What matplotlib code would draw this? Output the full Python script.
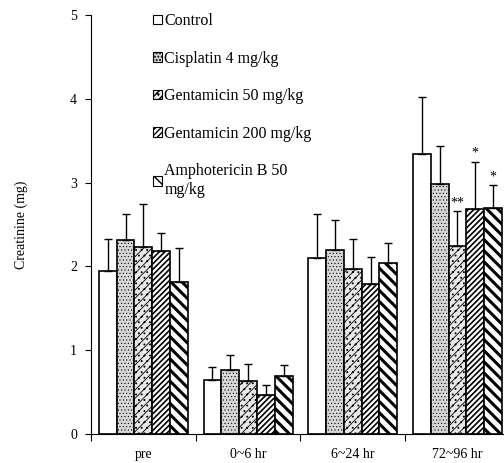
import matplotlib
matplotlib.use("Agg")
import matplotlib.pyplot as plt
from matplotlib.patches import Patch
import numpy as np

# Data
groups = ["pre", "0~6 hr", "6~24 hr", "72~96 hr"]
series = ["Control", "Cisplatin 4 mg/kg", "Gentamicin 50 mg/kg",
          "Gentamicin 200 mg/kg", "Amphotericin B 50\nmg/kg"]

control = [1.95, 0.65, 2.10, 3.34]
cisplatin = [2.31, 0.76, 2.20, 2.98]
gent50 = [2.23, 0.63, 1.97, 2.24]
gent200 = [2.18, 0.47, 1.79, 2.68]
ampho = [1.81, 0.69, 2.04, 2.70]

control_sd = [0.38, 0.15, 0.53, 0.68]
cisplatin_sd = [0.31, 0.18, 0.35, 0.46]
gent50_sd = [0.52, 0.20, 0.36, 0.42]
gent200_sd = [0.22, 0.11, 0.32, 0.57]
ampho_sd = [0.41, 0.13, 0.24, 0.27]

# significance marks: (series index, group index, text)
marks = [(2, 3, "**"), (3, 3, "*"), (4, 3, "*")]

means = [control, cisplatin, gent50, gent200, ampho]
sds = [control_sd, cisplatin_sd, gent50_sd, gent200_sd, ampho_sd]

plt.rcParams['font.family'] = ['Liberation Serif', 'DejaVu Serif']

styles = [
    dict(facecolor='white', hatch=None, hlw=1.0),
    dict(facecolor='#d8d8d8', hatch='.....', hlw=0.4),
    dict(facecolor='#e8e8e8', hatch='////...', hlw=0.6),
    dict(facecolor='white', hatch='//////', hlw=1.2),
    dict(facecolor='white', hatch='\\\\\\', hlw=2.2),
]

fig = plt.figure(figsize=(5.04, 4.63), dpi=100)
ax = fig.add_axes([91 / 504, 29 / 463, 418.8 / 504, 419 / 463])

x = np.arange(len(groups)) + 0.5
width = 0.17

for i in range(len(series)):
    pos = x + (i - 2) * width
    st = styles[i]
    with plt.rc_context({'hatch.linewidth': st['hlw'], 'hatch.color': 'black'}):
        bars = ax.bar(pos, means[i], width, facecolor=st['facecolor'],
                      edgecolor='black', linewidth=1.2, hatch=st['hatch'],
                      zorder=2)
    ax.errorbar(pos, means[i], yerr=[np.zeros(len(groups)), sds[i]],
                fmt='none', ecolor='black', elinewidth=1.0, capsize=3,
                capthick=1.0, zorder=3)

for si, gi, txt in marks:
    pos = x[gi] + (si - 2) * width
    top = means[si][gi] + sds[si][gi]
    ax.text(pos, top + 0.02, txt, ha='center', va='bottom', fontsize=10)

ax.set_xlim(0, 4)
ax.set_ylim(0, 5)
ax.set_yticks(range(6))
ax.set_xticks(range(5))
ax.set_xticklabels([])
ax.set_xticks(x, minor=True)
ax.set_xticklabels(groups, minor=True, fontsize=10)
ax.tick_params(axis='x', which='minor', length=0, pad=10)
ax.tick_params(axis='x', which='major', length=5, direction='out')
ax.tick_params(axis='y', length=4, direction='out', labelsize=10, pad=6)
ax.spines['top'].set_visible(False)
ax.spines['right'].set_visible(False)
ax.set_ylabel("Creatinine (mg)", fontsize=10, labelpad=30)

handles = []
for i in range(len(series)):
    st = styles[i]
    handles.append(Patch(facecolor=st['facecolor'], edgecolor='black',
                         hatch=st['hatch'], linewidth=0.8))
leg = ax.legend(handles, series, loc='upper left',
                bbox_to_anchor=(142 / 504, 1 - 2 / 463), bbox_transform=fig.transFigure,
                frameon=False, fontsize=11.5, handlelength=0.55,
                handleheight=0.55, handletextpad=0.15, labelspacing=1.35,
                borderaxespad=0.3)

fig.savefig("out.png", dpi=100)
